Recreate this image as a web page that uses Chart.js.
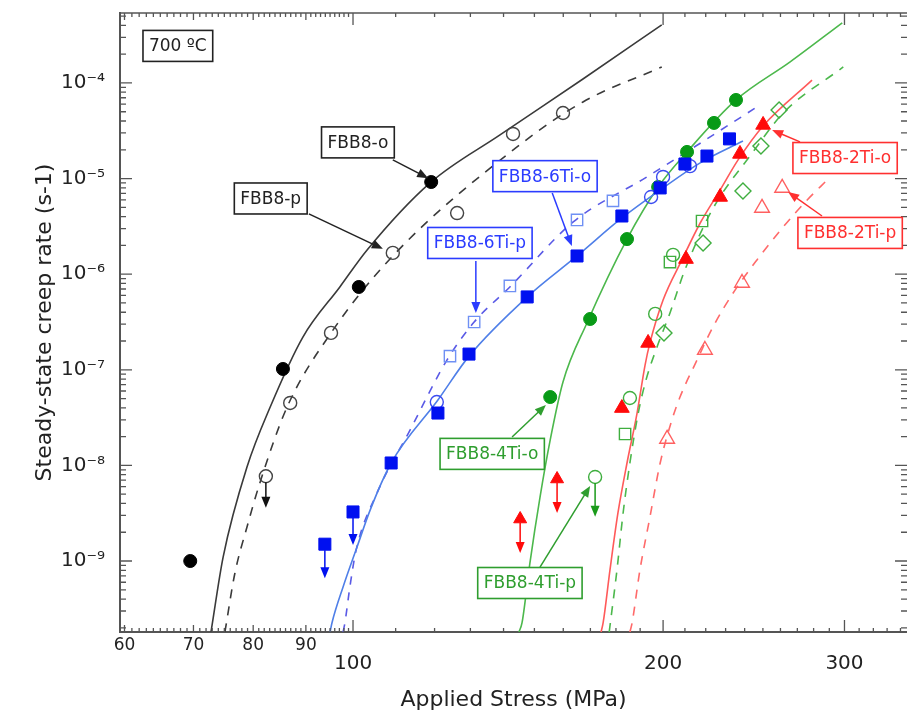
<!DOCTYPE html>
<html>
<head>
<meta charset="utf-8">
<title>Steady-state creep rate vs applied stress, 700 ºC</title>
<script src="https://cdn.jsdelivr.net/npm/chart.js@4.4.0/dist/chart.umd.min.js"></script>
<style>
  html, body { margin: 0; padding: 0; background: #fff; }
  #wrap { width: 907px; height: 717px; }
</style>
</head>
<body>
<div id="wrap"><canvas id="creep" width="907" height="717"></canvas></div>
<script>
// values: stress in MPa, creep rate in 1/s

// FBB8-o (filled black circles) and FBB8-p (open black circles)
const fbb8oX = [69.5, 85.5, 101.3, 119.1];
const fbb8oY = [1.0e-9, 1.02e-7, 7.35e-7, 9.2e-6];
const fbb8pX = [82.3, 86.9, 95.2, 109.3, 126.2, 143.0, 159.9];
const fbb8pY = [7.7e-9, 4.5e-8, 2.43e-7, 1.67e-6, 4.36e-6, 2.93e-5, 4.85e-5];

// FBB8-6Ti-o (filled blue squares), FBB8-6Ti-p (open blue squares), extra open blue circles
const ti6oX = [93.9, 100, 108.9, 120.9, 129.6, 147.6, 165.0, 182.4, 198.7, 210.0, 220.6, 232.0];
const ti6oY = [1.5e-9, 3.26e-9, 1.06e-8, 3.53e-8, 1.46e-7, 5.78e-7, 1.55e-6, 4.06e-6, 7.98e-6, 1.42e-5, 1.72e-5, 2.6e-5];
const ti6pX = [124.2, 131.1, 142.0, 165.0, 178.8];
const ti6pY = [1.39e-7, 3.16e-7, 7.53e-7, 3.69e-6, 5.84e-6];
const ti6cX = [120.6, 194.7, 200.0, 212.4];
const ti6cY = [4.6e-8, 6.42e-6, 1.04e-5, 1.35e-5];

// FBB8-4Ti-o (filled green circles), FBB8-4Ti-p (open green circles, squares, diamonds)
const ti4oX = [155.4, 169.9, 184.5, 197.8, 211.0, 224.1, 235.4];
const ti4oY = [5.19e-8, 3.40e-7, 2.33e-6, 8.17e-6, 1.9e-5, 3.82e-5, 6.64e-5];
const ti4pX = [171.8, 185.7, 196.5, 204.5];
const ti4pY = [7.57e-9, 5.07e-8, 3.84e-7, 1.59e-6];
const ti4sX = [183.7, 203.1, 218.2];
const ti4sY = [2.13e-8, 1.34e-6, 3.6e-6];
const ti4dX = [200.4, 218.7, 239.1, 248.9, 259.2];
const ti4dY = [2.43e-7, 2.12e-6, 7.41e-6, 2.19e-5, 5.22e-5];

// FBB8-2Ti-o (filled red triangles), FBB8-2Ti-p (open red triangles)
const ti2oX = [182.4, 193.4, 210.5, 227.2, 237.5, 250.1];
const ti2oY = [3.98e-8, 1.91e-7, 1.44e-6, 6.42e-6, 1.81e-5, 3.64e-5];
const ti2rX = [145.3, 157.8];
const ti2rY = [2.75e-9, 7.21e-9];
const ti2pX = [201.8, 219.6, 238.6, 249.5, 261.0];
const ti2pY = [1.89e-8, 1.61e-7, 8.09e-7, 4.93e-6, 7.98e-6];

// fitted curves
const fitOX = [72.8, 74.8, 78.9, 83.1, 89.4, 97.1, 103.2, 118.8, 138.9, 167.2, 199.4];
const fitOY = [1.81e-10, 1.1e-9, 9.62e-9, 4.08e-8, 2.2e-7, 7.35e-7, 1.79e-6, 9.0e-6, 2.86e-5, 1.1e-4, 4.05e-4];
const fitPX = [75.1, 76.8, 78.9, 81.2, 86.3, 95.2, 109.3, 144.3, 167.2, 199.4];
const fitPY = [1.81e-10, 7.49e-10, 2.27e-9, 6.55e-9, 4.08e-8, 2.43e-7, 1.55e-6, 2.14e-5, 6.33e-5, 1.47e-4];
const fit6oX = [95.0, 95.4, 97.8, 100.9, 103.9, 108.9, 120.9, 129.6, 147.6, 165.0, 182.4, 198.7, 217.3, 239.1];
const fit6oY = [1.81e-10, 2.25e-10, 5.35e-10, 1.4e-9, 3.41e-9, 1.06e-8, 4.83e-8, 1.39e-7, 5.78e-7, 1.55e-6, 3.87e-6, 7.6e-6, 1.46e-5, 2.47e-5];
const fit6pX = [97.8, 98.2, 99.3, 100.7, 105.5, 113.6, 123.4, 131.1, 142.0, 163.6, 192.9, 246.7];
const fit6pY = [1.81e-10, 2.25e-10, 5.35e-10, 1.3e-9, 5.14e-9, 2.34e-8, 1.27e-7, 3.16e-7, 7.35e-7, 3.52e-6, 1.04e-5, 5.61e-5];
const fit4oX = [144.9, 145.9, 148.5, 151.9, 155.4, 159.9, 168.7, 184.5, 197.8, 211.0, 235.4, 265.7, 298.5];
const fit4oY = [1.81e-10, 2.25e-10, 9.53e-10, 4.67e-9, 1.85e-8, 7.45e-8, 3.09e-7, 2.33e-6, 8.17e-6, 1.9e-5, 6.64e-5, 1.66e-4, 4.25e-4];
const fit4pX = [177.3, 180.4, 182.9, 185.7, 189.2, 192.5, 197.3, 203.1, 210.0, 223.2, 244.1, 261.6, 299.2];
const fit4pY = [1.81e-10, 8.05e-10, 3.18e-9, 1.06e-8, 3.53e-8, 7.82e-8, 1.73e-7, 3.93e-7, 1.11e-6, 4.7e-6, 1.85e-5, 4.85e-5, 1.47e-4];
const fit2oX = [174.1, 174.9, 177.6, 180.8, 184.5, 188.7, 192.1, 194.2, 200.0, 208.6, 217.3, 227.2, 236.5, 250.1, 279.0];
const fit2oY = [1.81e-10, 2.25e-10, 8.05e-10, 3.18e-9, 1.06e-8, 3.53e-8, 1.12e-7, 1.91e-7, 5.37e-7, 1.41e-6, 3.43e-6, 7.6e-6, 1.57e-5, 3.55e-5, 1.07e-4];
const fit2pX = [185.7, 186.6, 189.9, 194.2, 198.7, 204.0, 207.7, 215.8, 223.6, 233.9, 246.7, 261.6, 276.0, 288.6];
const fit2pY = [1.81e-10, 2.25e-10, 8.05e-10, 2.88e-9, 1.06e-8, 2.99e-8, 5.19e-8, 1.27e-7, 2.81e-7, 6.35e-7, 1.41e-6, 3.12e-6, 5.97e-6, 9.66e-6];

// upper-limit arrows: stress, rate at marker, rate at arrow tip
const limBlackX = [82.3], limBlackFrom = [7.7e-9], limBlackTo = [3.6e-9];
const limBlueX = [93.9, 100], limBlueFrom = [1.5e-9, 3.26e-9], limBlueTo = [6.6e-10, 1.47e-9];
const limGreenX = [171.8], limGreenFrom = [7.57e-9], limGreenTo = [2.9e-9];
const limRedX = [145.3, 157.8], limRedFrom = [2.75e-9, 7.21e-9], limRedTo = [1.21e-9, 3.18e-9];

// axes
const xRange = [59.4, 345];
const yRange = [1.81e-10, 5.39e-4];
const xTickValues = [60, 70, 80, 90, 100, 200, 300];
const xTickText = ['60', '70', '80', '90', '100', '200', '300'];
const yTickValues = [1e-9, 1e-8, 1e-7, 1e-6, 1e-5, 1e-4];
const yTickText = ['10⁻⁹', '10⁻⁸', '10⁻⁷', '10⁻⁶', '10⁻⁵', '10⁻⁴'];

const FONT = "'DejaVu Sans', 'Liberation Sans', sans-serif";

const pts = (xs, ys) => xs.map((x, i) => ({ x, y: ys[i] }));

function marker(label, xs, ys, style, color, filled, r) {
  return {
    label, data: pts(xs, ys), showLine: false, order: 1,
    pointStyle: style, pointRadius: r, pointHoverRadius: r,
    borderColor: color, backgroundColor: filled ? color : 'rgba(0,0,0,0)',
    pointBorderWidth: filled ? 1 : 1.4
  };
}

function fit(label, xs, ys, color, dash) {
  return {
    label, data: pts(xs, ys), showLine: true, order: 2,
    borderColor: color, borderWidth: 1.6, borderDash: dash || [],
    pointRadius: 0, cubicInterpolationMode: 'monotone'
  };
}

// labels with pointer arrows, positioned in data units
const notes = [
  { text: 'FBB8-o', color: '#222', at: [101.1, 2.39e-5], from: [109.3, 1.57e-5], to: [118.3, 1.01e-5] },
  { text: 'FBB8-p', color: '#222', at: [83.2, 6.19e-6], from: [90.6, 4.27e-6], to: [106.9, 1.84e-6] },
  { text: 'FBB8-6Ti-o', color: '#2b3cff', at: [153.6, 1.06e-5], from: [156.1, 7.06e-6], to: [163.1, 1.97e-6] },
  { text: 'FBB8-6Ti-p', color: '#2b3cff', at: [132.8, 2.12e-6], from: [131.6, 1.37e-6], to: [131.6, 3.93e-7] },
  { text: 'FBB8-4Ti-o', color: '#2f9e2f', at: [136.5, 1.32e-8], from: [142.7, 1.98e-8], to: [153.9, 4.29e-8] },
  { text: 'FBB8-4Ti-p', color: '#2f9e2f', at: [148.5, 5.89e-10], from: [151.9, 8.65e-10], to: [169.9, 6.1e-9] },
  { text: 'FBB8-2Ti-o', color: '#ff3030', at: [300.4, 1.64e-5], from: [271.6, 2.42e-5], to: [255.2, 3.22e-5] },
  { text: 'FBB8-2Ti-p', color: '#ff3030', at: [303.8, 2.7e-6], from: [285.3, 4.06e-6], to: [264.5, 7.24e-6] },
  { text: '700 ºC', color: '#222', at: [67.6, 2.44e-4] }
];

const limits = [
  { xs: limBlackX, from: limBlackFrom, to: limBlackTo, color: '#111', off: 6 },
  { xs: limBlueX, from: limBlueFrom, to: limBlueTo, color: '#0010f0', off: 6 },
  { xs: limGreenX, from: limGreenFrom, to: limGreenTo, color: '#1a9a1a', off: 6 },
  { xs: limRedX, from: limRedFrom, to: limRedTo, color: '#ff0a0a', off: 4 }
];

function arrow(ctx, x1, y1, x2, y2, color) {
  const head = 11, half = 4.5;
  const a = Math.atan2(y2 - y1, x2 - x1);
  const c = Math.cos(a), s = Math.sin(a);
  ctx.strokeStyle = color;
  ctx.fillStyle = color;
  ctx.lineWidth = 1.5;
  ctx.beginPath();
  ctx.moveTo(x1, y1);
  ctx.lineTo(x2 - c * head * 0.8, y2 - s * head * 0.8);
  ctx.stroke();
  ctx.beginPath();
  ctx.moveTo(x2, y2);
  ctx.lineTo(x2 - head * c + half * s, y2 - head * s - half * c);
  ctx.lineTo(x2 - head * c - half * s, y2 - head * s + half * c);
  ctx.closePath();
  ctx.fill();
}

// inward tick marks on all four sides, plus the top edge
const frame = {
  id: 'frame',
  afterDatasetsDraw(chart) {
    const { ctx, chartArea: a, scales: { x, y } } = chart;
    ctx.save();
    ctx.strokeStyle = '#555';
    ctx.lineWidth = 1.3;
    ctx.beginPath();
    ctx.moveTo(a.left, a.top);
    ctx.lineTo(a.right, a.top);
    const xt = (v, len) => {
      const p = x.getPixelForValue(v);
      ctx.moveTo(p, a.bottom); ctx.lineTo(p, a.bottom - len);
      ctx.moveTo(p, a.top); ctx.lineTo(p, a.top + len);
    };
    const yt = (v, len) => {
      const p = y.getPixelForValue(v);
      ctx.moveTo(a.left, p); ctx.lineTo(a.left + len, p);
      ctx.moveTo(a.right, p); ctx.lineTo(a.right - len, p);
    };
    for (let v = 61; v < 100; v++) if (v % 10) xt(v, 4);
    for (let v = 110; v < 350; v += 10) if (v % 100) xt(v, 4);
    xTickValues.forEach(v => xt(v, v >= 100 ? 12 : 7));
    for (let d = -10; d <= -4; d++) {
      for (let m = 2; m <= 9; m++) {
        const v = m * Math.pow(10, d);
        if (v > yRange[0] && v < yRange[1]) yt(v, 6);
      }
    }
    yTickValues.forEach(v => yt(v, 12));
    ctx.stroke();
    ctx.restore();
  }
};

const notesPlugin = {
  id: 'notes',
  afterDatasetsDraw(chart) {
    const { ctx, scales: { x, y } } = chart;
    ctx.save();
    limits.forEach(l => {
      l.xs.forEach((v, i) => {
        const px = x.getPixelForValue(v);
        arrow(ctx, px, y.getPixelForValue(l.from[i]) + l.off, px, y.getPixelForValue(l.to[i]), l.color);
      });
    });
    ctx.font = '17px ' + FONT;
    ctx.textAlign = 'center';
    ctx.textBaseline = 'middle';
    notes.forEach(n => {
      if (n.from) {
        arrow(ctx, x.getPixelForValue(n.from[0]), y.getPixelForValue(n.from[1]),
          x.getPixelForValue(n.to[0]), y.getPixelForValue(n.to[1]), n.color);
      }
      const cx = x.getPixelForValue(n.at[0]);
      const cy = y.getPixelForValue(n.at[1]);
      const w = ctx.measureText(n.text).width + 12;
      const h = 31;
      ctx.fillStyle = '#fff';
      ctx.fillRect(cx - w / 2, cy - h / 2, w, h);
      ctx.strokeStyle = n.color;
      ctx.lineWidth = 1.6;
      ctx.strokeRect(cx - w / 2, cy - h / 2, w, h);
      ctx.fillStyle = n.color;
      ctx.fillText(n.text, cx, cy + 1);
    });
    ctx.restore();
  }
};

new Chart(document.getElementById('creep'), {
  type: 'scatter',
  data: {
    datasets: [
      marker('FBB8-o', fbb8oX, fbb8oY, 'circle', '#000', true, 6.5),
      marker('FBB8-p', fbb8pX, fbb8pY, 'circle', '#444', false, 6.5),
      marker('FBB8-6Ti-o', ti6oX, ti6oY, 'rect', '#0010f0', true, 8.5),
      marker('FBB8-6Ti-p', ti6pX, ti6pY, 'rect', '#6f90f4', false, 8),
      marker('FBB8-6Ti-p circles', ti6cX, ti6cY, 'circle', '#3b4cf0', false, 6.5),
      marker('FBB8-4Ti-o', ti4oX, ti4oY, 'circle', '#089a16', true, 6.5),
      marker('FBB8-4Ti-p', ti4pX, ti4pY, 'circle', '#3fae3f', false, 6.5),
      marker('FBB8-4Ti-p squares', ti4sX, ti4sY, 'rect', '#3fae3f', false, 8),
      marker('FBB8-4Ti-p diamonds', ti4dX, ti4dY, 'rectRot', '#3fae3f', false, 8),
      marker('FBB8-2Ti-o', ti2oX, ti2oY, 'triangle', '#ff0a0a', true, 8.5),
      marker('FBB8-2Ti-o range', ti2rX, ti2rY, 'triangle', '#ff0a0a', true, 7.5),
      marker('FBB8-2Ti-p', ti2pX, ti2pY, 'triangle', '#ff6060', false, 8.5),
      fit('fit o', fitOX, fitOY, '#3a3a3a'),
      fit('fit p', fitPX, fitPY, '#3a3a3a', [9, 8]),
      fit('fit 6Ti-o', fit6oX, fit6oY, '#4f7fe8'),
      fit('fit 6Ti-p', fit6pX, fit6pY, '#5a5ae6', [8, 8]),
      fit('fit 4Ti-o', fit4oX, fit4oY, '#4cb84c'),
      fit('fit 4Ti-p', fit4pX, fit4pY, '#4cb84c', [9, 8]),
      fit('fit 2Ti-o', fit2oX, fit2oY, '#ff5a5a'),
      fit('fit 2Ti-p', fit2pX, fit2pY, '#ff6a6a', [9, 8])
    ]
  },
  options: {
    responsive: false,
    animation: false,
    layout: { autoPadding: false, padding: { top: 13, left: 0, right: 0, bottom: 0 } },
    plugins: { legend: { display: false }, tooltip: { enabled: false } },
    scales: {
      x: {
        type: 'logarithmic',
        min: xRange[0],
        max: xRange[1],
        grid: { display: false, drawTicks: false },
        border: { display: true, color: '#555', width: 2 },
        afterFit: s => { s.height = 85; s.paddingLeft = 0; s.paddingRight = 0; },
        afterBuildTicks: s => { s.ticks = xTickValues.map(v => ({ value: v })); },
        ticks: {
          autoSkip: false,
          maxRotation: 0,
          padding: 5,
          color: '#222',
          font: c => (c.tick && c.tick.value >= 100)
            ? { family: FONT, size: 20, lineHeight: '18px' }
            : { family: FONT, size: 17, lineHeight: '18px' },
          callback: v => {
            const t = xTickText[xTickValues.indexOf(v)];
            return v >= 100 ? ['', t] : t;
          }
        },
        title: {
          display: true,
          text: 'Applied Stress (MPa)',
          color: '#222',
          font: { family: FONT, size: 22 },
          padding: { top: 0, bottom: 4 }
        }
      },
      y: {
        type: 'logarithmic',
        min: yRange[0],
        max: yRange[1],
        grid: { display: false, drawTicks: false },
        border: { display: true, color: '#555', width: 2 },
        afterFit: s => { s.width = 120; s.paddingTop = 0; s.paddingBottom = 0; },
        afterBuildTicks: s => { s.ticks = yTickValues.map(v => ({ value: v })); },
        ticks: {
          autoSkip: false,
          padding: 15,
          color: '#222',
          font: { family: FONT, size: 20 },
          callback: v => yTickText[yTickValues.indexOf(v)]
        },
        title: {
          display: true,
          text: 'Steady-state creep rate (s-1)',
          color: '#222',
          font: { family: FONT, size: 22 },
          padding: { top: 32, bottom: 0 }
        }
      }
    }
  },
  plugins: [frame, notesPlugin]
});
</script>
</body>
</html>
